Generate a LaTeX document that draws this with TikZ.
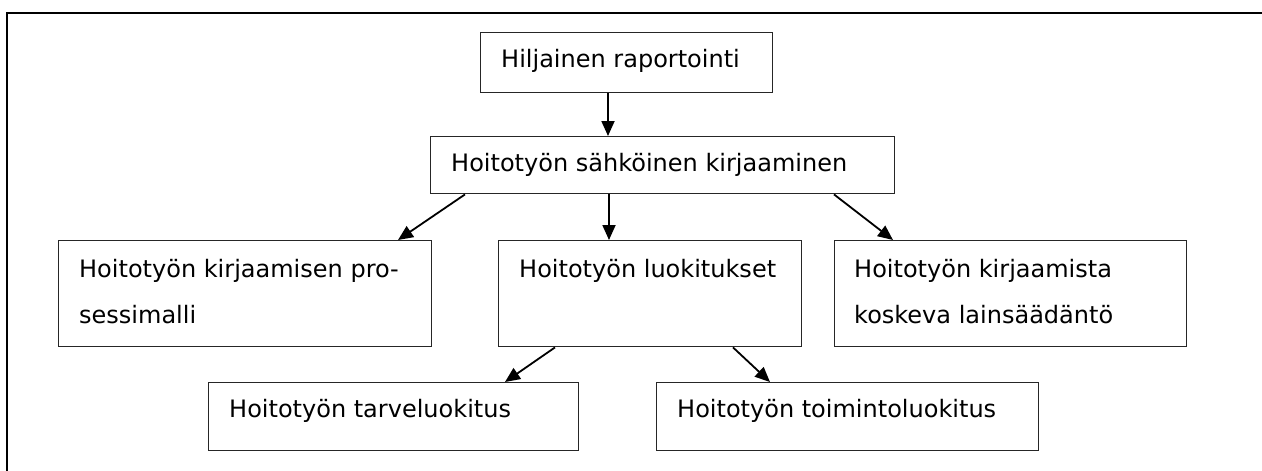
\documentclass[tikz,border=0pt]{standalone}
\usepackage{fontspec}
\setmainfont{DejaVu Sans}
\usetikzlibrary{arrows.meta,calc}
\begin{document}
\begin{tikzpicture}[x=1pt,y=-1pt,
  boxnode/.style={draw=black!85, line width=1.4pt, rectangle, inner sep=0pt, anchor=north west},
  lbl/.style={anchor=base west, inner sep=0pt, font=\fontsize{24}{29}\selectfont},
  arr/.style={line width=1.8pt, -{Triangle[length=15pt,width=13pt]}},
  frameline/.style={line width=2pt}]
\useasboundingbox (0,0) rectangle (1262,471);
\coordinate (ftr) at (1270,13);
\coordinate (fc) at (7,13);
\coordinate (fbl) at (7,480);
\draw[frameline] (ftr) -- (fc) -- (fbl);

\node[boxnode, minimum width=292pt, minimum height=60pt] (b1) at (480,32) {};
\node[boxnode, minimum width=464pt, minimum height=57pt] (b2) at (430,136) {};
\node[boxnode, minimum width=373pt, minimum height=106pt] (b3) at (58,240) {};
\node[boxnode, minimum width=303pt, minimum height=106pt] (b4) at (498,240) {};
\node[boxnode, minimum width=352pt, minimum height=106pt] (b5) at (834,240) {};
\node[boxnode, minimum width=370pt, minimum height=68pt] (b6) at (208,382) {};
\node[boxnode, minimum width=382pt, minimum height=68pt] (b7) at (656,382) {};

\node[lbl] (t1) at (501,67) {Hiljainen raportointi};
\node[lbl] (t2) at (451,171) {Hoitotyön sähköinen kirjaaminen};
\node[lbl] (t3a) at (79,277) {Hoitotyön kirjaamisen pro-};
\node[lbl] (t3b) at (79,323) {sessimalli};
\node[lbl] (t4) at (519,277) {Hoitotyön luokitukset};
\node[lbl] (t5a) at (854,277) {Hoitotyön kirjaamista};
\node[lbl] (t5b) at (854,323) {koskeva lainsäädäntö};
\node[lbl] (t6) at (229,417) {Hoitotyön tarveluokitus};
\node[lbl] (t7) at (677,417) {Hoitotyön toimintoluokitus};

\draw[arr] ($(b1.south west)+(128,0)$) -- ($(b2.north west)+(178,0)$);
\draw[arr] ($(b2.south west)+(35,0)$) -- ($(b3.north west)+(340,0)$);
\draw[arr] ($(b2.south west)+(179,0)$) -- ($(b4.north west)+(111,0)$);
\draw[arr] ($(b2.south west)+(404,0)$) -- ($(b5.north west)+(59,0)$);
\draw[arr] ($(b4.south west)+(57,0)$) -- ($(b6.north west)+(297,0)$);
\draw[arr] ($(b4.south west)+(235,0)$) -- ($(b7.north west)+(114,0)$);
\end{tikzpicture}
\end{document}
